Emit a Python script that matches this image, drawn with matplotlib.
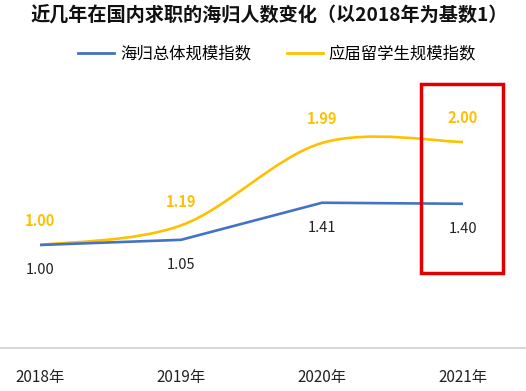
import numpy as np
import matplotlib
matplotlib.use("Agg")
import matplotlib.pyplot as plt
from matplotlib.path import Path
from matplotlib.patches import PathPatch, Rectangle
from matplotlib.lines import Line2D

plt.rcParams['font.family'] = ['Noto Sans CJK SC', 'DejaVu Sans']

years = ['2018年', '2019年', '2020年', '2021年']
overall = [1.00, 1.05, 1.41, 1.40]
graduates = [1.00, 1.19, 1.99, 2.00]

blue = '#4472C4'
gold = '#FFC000'

fig = plt.figure(figsize=(5.26, 3.91), dpi=100)
ax = fig.add_axes([0, 0.11, 1, 0.685])
x = np.arange(len(years))

# overall: straight segments
ax.plot(x, overall, color=blue, linewidth=1.9, solid_capstyle='butt', zorder=3)

# graduates: smoothed (catmull-rom style bezier through the data points)
ys = graduates
verts = [(x[0], ys[0])]
codes = [Path.MOVETO]
n = len(ys)
for i in range(n - 1):
    y_prev = ys[i - 1] if i > 0 else ys[i]
    y_next2 = ys[i + 2] if i + 2 < n else ys[i + 1]
    x_prev = x[i - 1] if i > 0 else x[i]
    x_next2 = x[i + 2] if i + 2 < n else x[i + 1]
    c1 = (x[i] + (x[i + 1] - x_prev) / 6, ys[i] + (ys[i + 1] - y_prev) / 6)
    c2 = (x[i + 1] - (x_next2 - x[i]) / 6, ys[i + 1] - (y_next2 - ys[i]) / 6)
    verts += [c1, c2, (x[i + 1], ys[i + 1])]
    codes += [Path.CURVE4] * 3
ax.add_patch(PathPatch(Path(verts, codes), facecolor='none', edgecolor=gold,
                       linewidth=1.9, zorder=2))

for xi, v in zip(x, overall):
    ax.annotate(f'{v:.2f}', (xi, v), xytext=(0, -18), textcoords='offset points',
                ha='center', va='center', fontsize=10.5, color='#222222')
for xi, v in zip(x, graduates):
    ax.annotate(f'{v:.2f}', (xi, v), xytext=(0, 17), textcoords='offset points',
                ha='center', va='center', fontsize=10.5, color=gold, fontweight='bold')

ax.set_xlim(-0.284, 3.447)
ax.set_ylim(0, 2.6)
ax.set_yticks([])
ax.set_xticks(x)
ax.set_xticklabels(years, fontsize=11, color='#222222')
ax.tick_params(axis='x', length=0, pad=15)
for s in ['top', 'left', 'right']:
    ax.spines[s].set_visible(False)
ax.spines['bottom'].set_color('#D0D0D0')
ax.spines['bottom'].set_linewidth(1.2)
ax.patch.set_alpha(0)

fig.text(0.512, 0.962, '近几年在国内求职的海归人数变化（以2018年为基数1）',
         ha='center', va='center', fontsize=13.8, fontweight='bold', color='#111111')

handles = [Line2D([], [], color=blue, linewidth=2),
           Line2D([], [], color=gold, linewidth=2)]
fig.legend(handles, ['海归总体规模指数', '应届留学生规模指数'], loc='center',
           bbox_to_anchor=(0.527, 0.862), ncol=2, frameon=False, fontsize=11.8,
           handlelength=2.2, handletextpad=0.35, columnspacing=2.2)

# red highlight box around 2021
fig.patches.append(Rectangle((421 / 526, 1 - 273 / 391), 82 / 526, 189 / 391,
                             transform=fig.transFigure, fill=False,
                             edgecolor='#E00000', linewidth=2.5, zorder=5))

fig.savefig('out.png', dpi=100)
